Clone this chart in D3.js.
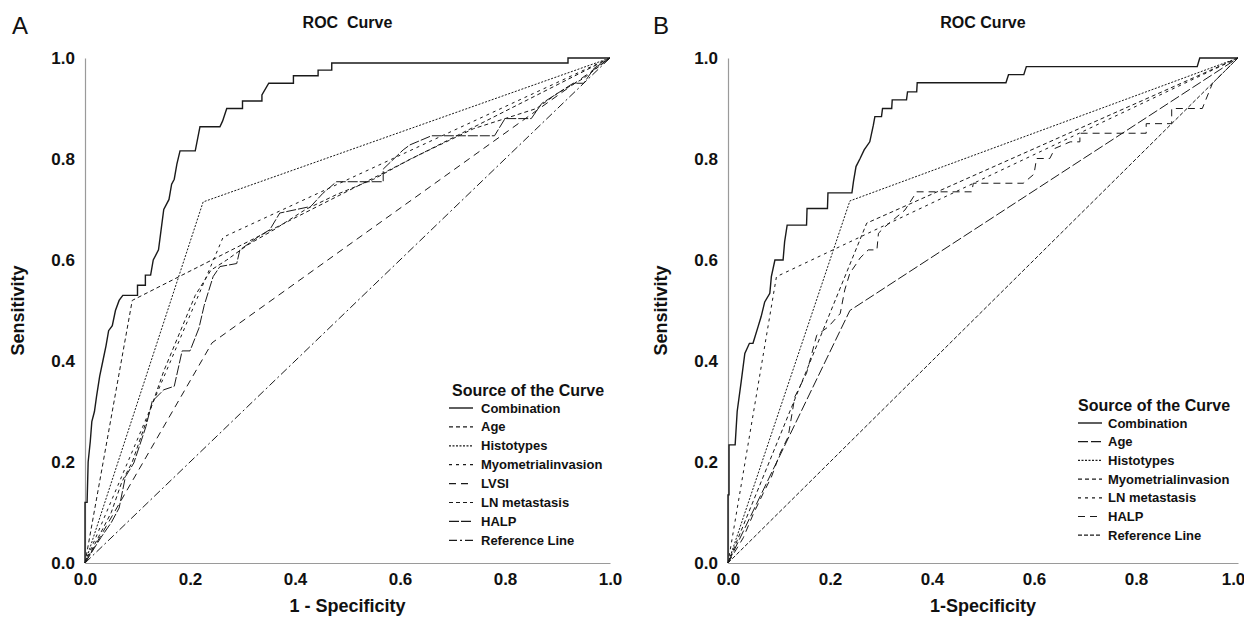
<!DOCTYPE html>
<html><head><meta charset="utf-8">
<script src="https://cdn.jsdelivr.net/npm/d3@7"></script>
<style>
body{margin:0;background:#fff}
svg text{font-family:"Liberation Sans",Arial,Helvetica,sans-serif}
</style>
</head><body>
<svg id="chart" width="1244" height="622"></svg>
<script>
// ---------- DATA ----------
const tickValues = [0, 0.2, 0.4, 0.6, 0.8, 1.0];

// Panel A curves: [1-specificity, sensitivity]
const combinationA = [[0,0],[0,0.12],[0.004,0.12],[0.006,0.2],[0.01,0.24],[0.013,0.28],[0.018,0.3],[0.022,0.33],[0.028,0.37],[0.034,0.4],[0.04,0.43],[0.045,0.46],[0.052,0.47],[0.058,0.5],[0.065,0.52],[0.072,0.53],[0.1,0.53],[0.1,0.55],[0.115,0.55],[0.115,0.57],[0.125,0.57],[0.13,0.6],[0.14,0.62],[0.145,0.66],[0.15,0.7],[0.16,0.72],[0.165,0.75],[0.17,0.76],[0.175,0.79],[0.181,0.816],[0.21,0.816],[0.219,0.864],[0.257,0.864],[0.262,0.875],[0.27,0.9],[0.3,0.9],[0.3,0.915],[0.337,0.915],[0.337,0.927],[0.35,0.95],[0.397,0.95],[0.397,0.965],[0.444,0.965],[0.444,0.976],[0.47,0.976],[0.47,0.99],[0.92,0.99],[0.92,1],[1,1]];
const ageA = [[0,0],[0.03,0.06],[0.05,0.1],[0.07,0.16],[0.09,0.2],[0.11,0.26],[0.13,0.32],[0.15,0.38],[0.17,0.43],[0.19,0.48],[0.21,0.53],[0.24,0.58],[0.27,0.6],[0.31,0.63],[0.36,0.66],[0.42,0.7],[0.48,0.73],[0.55,0.76],[0.62,0.8],[0.68,0.83],[0.74,0.86],[0.8,0.88],[0.86,0.9],[0.9,0.93],[0.95,0.96],[1,1]];
const histotypesA = [[0,0],[0.225,0.715],[1,1]];
const myometrialA = [[0,0],[0.263,0.645],[1,1]];
const lvsiA = [[0,0],[0.242,0.436],[1,1]];
const lnMetastasisA = [[0,0],[0.09,0.52],[1,1]];
const halpA = [[0,0],[0.03,0.05],[0.05,0.08],[0.065,0.109],[0.077,0.171],[0.093,0.198],[0.116,0.27],[0.128,0.32],[0.15,0.343],[0.17,0.35],[0.185,0.42],[0.2,0.42],[0.217,0.465],[0.227,0.51],[0.244,0.567],[0.257,0.587],[0.289,0.593],[0.295,0.62],[0.33,0.646],[0.352,0.66],[0.371,0.693],[0.43,0.706],[0.453,0.732],[0.479,0.755],[0.568,0.755],[0.568,0.78],[0.606,0.818],[0.619,0.828],[0.66,0.846],[0.78,0.846],[0.8,0.88],[0.85,0.88],[0.87,0.91],[0.9,0.93],[0.93,0.95],[0.95,0.95],[0.97,0.98],[1,1]];
const referenceA = [[0,0],[1,1]];

// Panel B curves
const combinationB = [[0,0],[0,0.135],[0.002,0.135],[0.002,0.234],[0.014,0.234],[0.018,0.3],[0.026,0.36],[0.033,0.415],[0.042,0.435],[0.049,0.435],[0.059,0.468],[0.065,0.488],[0.072,0.517],[0.082,0.534],[0.085,0.567],[0.092,0.6],[0.108,0.6],[0.111,0.636],[0.116,0.669],[0.154,0.669],[0.155,0.702],[0.195,0.702],[0.196,0.733],[0.243,0.733],[0.246,0.755],[0.251,0.785],[0.259,0.801],[0.267,0.818],[0.278,0.834],[0.285,0.867],[0.288,0.884],[0.301,0.884],[0.303,0.9],[0.321,0.9],[0.322,0.917],[0.35,0.917],[0.352,0.933],[0.37,0.933],[0.371,0.951],[0.545,0.951],[0.55,0.967],[0.58,0.967],[0.585,0.983],[0.92,0.983],[0.925,1],[1,1]];
const ageB = [[0,0],[0.239,0.5],[1,1]];
const histotypesB = [[0,0],[0.239,0.717],[1,1]];
const myometrialB = [[0,0],[0.272,0.673],[1,1]];
const lnMetastasisB = [[0,0],[0.095,0.567],[1,1]];
const halpB = [[0,0],[0.03,0.05],[0.05,0.098],[0.069,0.138],[0.085,0.17],[0.102,0.217],[0.118,0.25],[0.131,0.329],[0.154,0.376],[0.174,0.451],[0.197,0.468],[0.22,0.494],[0.229,0.541],[0.239,0.574],[0.252,0.593],[0.259,0.604],[0.275,0.62],[0.292,0.62],[0.295,0.653],[0.308,0.666],[0.347,0.699],[0.37,0.735],[0.478,0.735],[0.481,0.752],[0.579,0.752],[0.6,0.77],[0.605,0.801],[0.631,0.801],[0.641,0.821],[0.671,0.834],[0.69,0.834],[0.69,0.851],[0.82,0.851],[0.82,0.87],[0.87,0.87],[0.87,0.9],[0.93,0.9],[0.95,0.95],[1,1]];
const referenceB = [[0,0],[1,1]];

const legendNamesA = ["Combination","Age","Histotypes","Myometrialinvasion","LVSI","LN metastasis","HALP","Reference Line"];
const legendNamesB = ["Combination","Age","Histotypes","Myometrialinvasion","LN metastasis","HALP","Reference Line"];
const seriesA = [combinationA, ageA, histotypesA, myometrialA, lvsiA, lnMetastasisA, halpA, referenceA];
const seriesB = [combinationB, ageB, histotypesB, myometrialB, lnMetastasisB, halpB, referenceB];

// ---------- STYLES ----------
const dashA = [null, "4,3", "2,1.5", "3,4", "7,5", "4,3", "10,2", "8,3,2,3"];
const dashB = [null, "10,3", "2,1.5", "4,3", "3,4", "7,5", "4,2"];

const panels = [
  {letter:"A", title:"ROC  Curve", xlabel:"1 - Specificity", xr:[85,610], yr:[563,58],
   letterX:12, ylabX:24, lastTickDx:0, series:seriesA, names:legendNamesA, dash:dashA,
   leg:{titleX:452, titleY:396, lineX:449, textX:481, y0:408, dy:18.9}},
  {letter:"B", title:"ROC Curve", xlabel:"1-Specificity", xr:[728,1238], yr:[563,58],
   letterX:653, ylabX:667, lastTickDx:-5, series:seriesB, names:legendNamesB, dash:dashB,
   leg:{titleX:1078, titleY:411, lineX:1078, textX:1108, y0:423, dy:18.7}}
];

const svg = d3.select("#chart");

panels.forEach(p => {
  const x = d3.scaleLinear().domain([0,1]).range(p.xr);
  const y = d3.scaleLinear().domain([0,1]).range(p.yr);
  const g = svg.append("g");

  // axes
  const xAxis = d3.axisBottom(x).tickValues(tickValues).tickFormat(d3.format(".1f")).tickSize(0).tickPadding(10);
  const yAxis = d3.axisLeft(y).tickValues(tickValues).tickFormat(d3.format(".1f")).tickSize(0).tickPadding(10);
  const gx = g.append("g").attr("transform", `translate(0,${p.yr[0]})`).call(xAxis);
  const gy = g.append("g").attr("transform", `translate(${p.xr[0]},0)`).call(yAxis);
  [gx, gy].forEach(a => {
    a.select(".domain").attr("stroke", "#9a9a9a").attr("stroke-width", 1.2);
    a.selectAll("text").attr("font-size", 17).attr("font-weight", "bold").attr("fill", "#111");
  });
  gx.selectAll("text").filter(d => d === 1).attr("dx", p.lastTickDx);

  // curves
  const line = d3.line().x(d => x(d[0])).y(d => y(d[1]));
  p.series.forEach((s, i) => {
    g.append("path").datum(s).attr("d", line)
      .attr("fill", "none").attr("stroke", "#1a1a1a")
      .attr("stroke-width", i === 0 ? 1.4 : 1)
      .attr("stroke-dasharray", p.dash[i]);
  });

  // texts
  g.append("text").attr("x", p.letterX).attr("y", 34).attr("font-size", 24).attr("fill", "#111").text(p.letter);
  g.append("text").attr("x", (p.xr[0]+p.xr[1])/2).attr("y", 28).attr("text-anchor", "middle")
    .attr("font-size", 16).attr("font-weight", "bold").style("white-space", "pre").attr("fill", "#111").text(p.title);
  g.append("text").attr("x", (p.xr[0]+p.xr[1])/2).attr("y", 612).attr("text-anchor", "middle")
    .attr("font-size", 18).attr("font-weight", "bold").attr("fill", "#111").text(p.xlabel);
  g.append("text").attr("transform", `translate(${p.ylabX},${(p.yr[0]+p.yr[1])/2}) rotate(-90)`)
    .attr("text-anchor", "middle").attr("font-size", 18).attr("font-weight", "bold").attr("fill", "#111").text("Sensitivity");

  // legend
  const L = p.leg;
  g.append("text").attr("x", L.titleX).attr("y", L.titleY).attr("font-size", 16).attr("font-weight", "bold").attr("fill", "#111").text("Source of the Curve");
  p.names.forEach((n, i) => {
    const cy = L.y0 + i * L.dy;
    g.append("line").attr("x1", L.lineX).attr("x2", L.lineX + 24).attr("y1", cy).attr("y2", cy)
      .attr("stroke", "#1a1a1a").attr("stroke-width", i === 0 ? 1.4 : 1.2).attr("stroke-dasharray", p.dash[i]);
    g.append("text").attr("x", L.textX).attr("y", cy + 4.5).attr("font-size", 13).attr("font-weight", "bold").attr("fill", "#111").text(n);
  });
});
</script>
</body></html>
